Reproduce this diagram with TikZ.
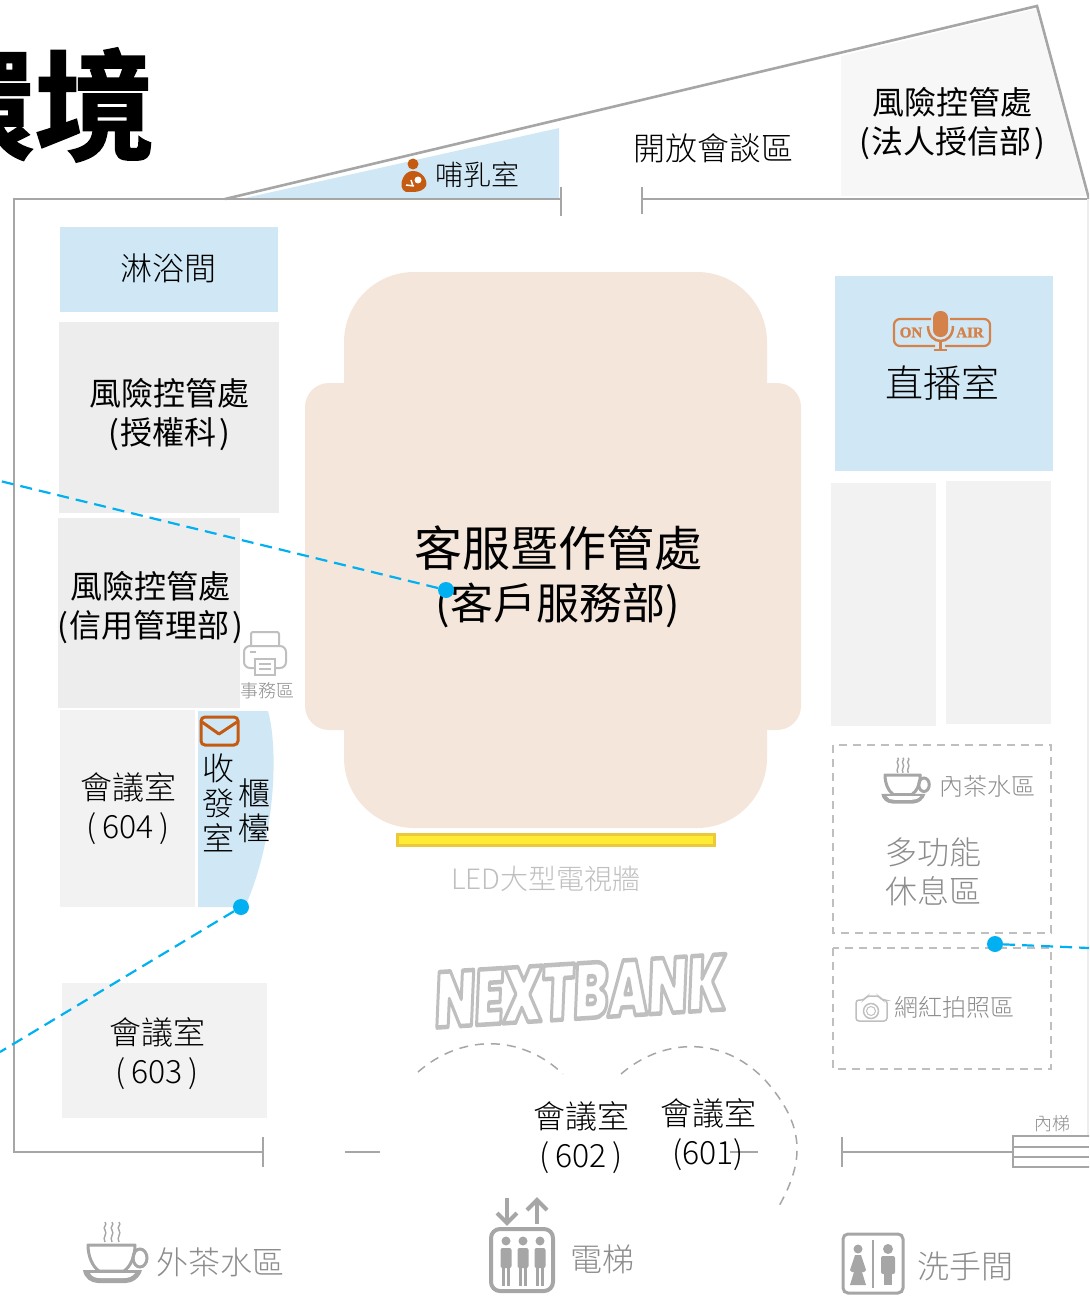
\documentclass[tikz,border=0pt]{standalone}
\usepackage{fontspec}
\setmainfont{Noto Sans CJK TC}
\newfontfamily\cjkl{Noto Sans CJK TC Light}
\newfontfamily\cjkb[FakeBold=1.5]{Noto Sans CJK TC Bold}
\newfontfamily\airf[FakeBold=1.5]{Liberation Serif}
\newfontfamily\logof[FakeSlant=.16]{Poppins Black}
\definecolor{wallc}{HTML}{A6A6A6}
\definecolor{paleblue}{HTML}{D0E8F6}
\definecolor{paleg}{HTML}{EDEDED}
\definecolor{palegg}{HTML}{F2F2F2}
\definecolor{beigec}{HTML}{F4E6DA}
\definecolor{leaderc}{HTML}{00B0F0}
\definecolor{orangec}{HTML}{C55A11}
\definecolor{airc}{HTML}{D5824A}
\definecolor{dashc}{HTML}{BFBFBF}
\definecolor{txtg}{HTML}{8C8C8C}
\definecolor{barline}{HTML}{ECC93A}
\definecolor{barfill}{HTML}{FFEB33}
\tikzset{
  wall/.style={draw=wallc,line width=2.6pt},
  lbl/.style={inner sep=0pt,align=center,text=black},
  fs/.style={font=\fontsize{#1}{\the\dimexpr #1pt*122/100\relax}\selectfont\cjkl},
  fsr/.style={font=\fontsize{#1}{\the\dimexpr #1pt*122/100\relax}\selectfont\rmfamily},
  leader/.style={draw=leaderc,line width=2.2pt,dash pattern=on 12pt off 7pt},
  leaderdot/.style={circle,fill=leaderc,inner sep=0pt,minimum size=16pt},
  dashbox/.style={draw=dashc,line width=2pt,dash pattern=on 8pt off 6pt},
  swing/.style={draw=wallc,line width=1.5pt,dash pattern=on 9pt off 7pt},
  icong/.style={draw=dashc,line width=2pt},
  iconw/.style={draw=wallc,line width=3pt},
  cupicon/.pic={
    \draw[wallc,line width=3pt,line join=round] (0,0) -- (47,0) .. controls (47,12) and (42,22) .. (36,26) -- (11,26) .. controls (5,22) and (0,12) .. (0,0) -- cycle;
    \draw[wallc,line width=3pt] (52,13) ellipse [x radius=7,y radius=9];
    \fill[wallc] (-5,25) -- (54,25) .. controls (52,33) and (44,38) .. (38,38) -- (10,38) .. controls (3,38) and (-4,33) .. (-5,25) -- cycle;
    \fill[white] (2,28) -- (47,28) .. controls (44,32) and (40,33) .. (36,33) -- (12,33) .. controls (8,33) and (4,32) .. (2,28) -- cycle;
    \foreach \sx in {17,24,31}{
      \draw[wallc,line width=1.4pt] (\sx,-3) .. controls (\sx-3,-8) and (\sx+3,-11) .. (\sx,-15) .. controls (\sx-3,-18) and (\sx+3,-20) .. (\sx,-23);}
  },
  person/.pic={
    \fill[wallc] (0,-15) circle (4.5);
    \fill[wallc,rounded corners=2pt] (-5.5,-8) rectangle (5.5,12);
    \fill[wallc] (-4,10) rectangle (-.8,30);
    \fill[wallc] (.8,10) rectangle (4,30);
  }
}
\begin{document}
\begin{tikzpicture}[x=1pt,y=-1pt]
\useasboundingbox (0,0) rectangle (1089,1297);
\clip (0,0) rectangle (1089,1297);
% fills
\fill[color=white!97!black] (841,56) -- (1036,9) -- (1086,196) -- (841,196) -- cycle;
\fill[paleblue] (245,198) -- (559,128) -- (559,198) -- cycle;
\fill[beigec,rounded corners=70pt] (344,272) rectangle (767,828);
\fill[beigec,rounded corners=24pt] (305,383) rectangle (801,730);
% rooms
\fill[paleblue] (60,227) rectangle (278,312);
\fill[paleg] (59,322) rectangle (279,513);
\fill[paleg] (58,518) rectangle (240,708);
\fill[palegg] (60,710) rectangle (195,907);
\fill[paleblue] (198,711) -- (268,711) .. controls (279,750) and (275,840) .. (245,907) -- (198,907) -- cycle;
\fill[palegg] (62,983) rectangle (267,1118);
\fill[paleblue] (835,276) rectangle (1053,471);
\fill[palegg] (831,483) rectangle (936,726);
\fill[palegg] (946,481) rectangle (1051,724);
\draw[dashbox] (833,745) rectangle (1051,933);
\draw[dashbox] (833,948) rectangle (1051,1069);
% walls
\draw[wall] (225,199) -- (14,199) -- (14,1152) -- (263,1152);
\draw[wall] (225,199) -- (561,199);
\draw[wall] (561,187) -- (561,216);
\draw[wall] (642,187) -- (642,214);
\draw[wall] (642,199) -- (1089,199);
\draw[wall] (225,199) -- (1037,6) -- (1089,199);
\draw[draw=paleg,line width=2pt] (1088,199) -- (1088,1136);
\draw[wall] (263,1137) -- (263,1167);
\draw[wall] (345,1152) -- (380,1152);
\draw[wall] (730,1152) -- (758,1152);
\draw[wall] (842,1137) -- (842,1167);
\draw[wall] (842,1152) -- (1013,1152);
\draw[wall] (1013,1136) rectangle (1095,1167);
\draw[wall] (1013,1147) -- (1089,1147);
\draw[wall] (1013,1157) -- (1089,1157);
% door swings
\draw[swing] (418,1072) .. controls (460,1035) and (520,1033) .. (563,1074);
\draw[swing] (621,1074) .. controls (660,1040) and (720,1033) .. (765,1080) .. controls (805,1125) and (805,1160) .. (779,1206);
% yellow bar
\draw[draw=barline,fill=barfill,line width=3pt] (397.5,834.5) rectangle (714,845.5);
% title
\node[inner sep=0pt,anchor=east,font=\fontsize{120}{120}\selectfont\cjkb] (title) at (155,105) {環境};
% labels
\node[lbl,fs=28] (t1) at (477,175) {哺乳室};
\node[lbl,fs=32] (t2) at (713,148) {開放會談區};
\node[lbl,fsr=32] (t3) at (952,124) {風險控管處\\(\kern2pt法人授信部\kern2pt)};
\node[lbl,fs=32] (t4) at (168,268) {淋浴間};
\node[lbl,fsr=32] (t5) at (169,415) {風險控管處\\(\kern2pt授權科\kern2pt)};
\node[lbl,fsr=32] (t6) at (150,608) {風險控管處\\(\kern2pt信用管理部\kern2pt)};
\node[lbl,fsr=48] (t7) at (558,577) {客服暨作管處\\[-5pt]{\fontsize{43}{50}\selectfont(客戶服務部)}};
\node[lbl,fs=38] (t8) at (942,383) {直播室};
\node[lbl,fs=18,text=txtg] (t9) at (267,691) {事務區};
\node[lbl,fs=32] (t10) at (128,809) {會議室\\(\,604\,)};
\node[lbl,fs=32] (t11) at (218,803) {收\\[-4pt]發\\[-4pt]室};
\node[lbl,fs=32] (t12) at (254,811) {櫃\\[-4pt]檯};
\node[lbl,fs=24,text=txtg] (t13) at (987,786) {內茶水區};
\node[lbl,fs=32,text=txtg] (t14) at (933,872) {多功能\\休息區};
\node[lbl,fs=24,text=txtg] (t15) at (954,1007) {網紅拍照區};
\node[lbl,fs=28,text=dashc] (t16) at (546,879) {LED大型電視牆};
\node[lbl,fs=32] (t17) at (157,1054) {會議室\\(\,603\,)};
\node[lbl,fs=32] (t18) at (581,1138) {會議室\\(\,602\,)};
\node[lbl,fs=32] (t19) at (708,1135) {會議室\\(601)};
\node[lbl,fs=32,text=txtg] (t20) at (220,1262) {外茶水區};
\node[lbl,fs=32,text=txtg] (t21) at (602,1259) {電梯};
\node[lbl,fs=32,text=txtg] (t22) at (965,1266) {洗手間};
\node[lbl,fs=18,text=txtg] (t23) at (1052,1124) {內梯};
% leaders' free ends
\coordinate (l1) at (0,481);
\coordinate (l2) at (0,1052);
\coordinate (l3) at (1089,948);
\node[leaderdot] (d1) at (446,590) {};
\node[leaderdot] (d2) at (241,907) {};
\node[leaderdot] (d3) at (995,944) {};
\draw[leader] (d1) -- (l1);
\draw[leader] (d2) -- (l2);
\draw[leader] (d3) -- (l3);
% NEXTBANK
\node[inner sep=0pt,rotate=3.6,xscale=.655,transform shape,font=\fontsize{78}{78}\selectfont\logof] (logo) at (578,991) {\special{pdf:literal direct q 2 Tr 1 j 4.5 w 0.75 G 1 g}NEXTBANK\special{pdf:literal direct 0 Tr Q}};
% printer icon
\draw[icong,rounded corners=2pt,fill=white] (251,632) rectangle (279,648);
\draw[icong,rounded corners=6pt,fill=white] (244,646) rectangle (286,668);
\draw[icong,fill=white] (255,659) rectangle (275,675);
\draw[dashc,line width=1.3pt] (250,652) -- (256,652) (259,664) -- (271,664) (259,669) -- (271,669);
% mail icon
\draw[orangec,line width=3pt,rounded corners=4pt] (201,717) rectangle (238,745);
\draw[orangec,line width=3pt,line join=round] (202,722) -- (219,734) -- (237,722);
% mother icon
\fill[orangec] (413,164) circle (5.5);
\fill[orangec] (413,171) .. controls (422,171) and (428,180) .. (426,186) .. controls (424,190) and (419,192) .. (413,192) -- (406,192) .. controls (401,190) and (400,184) .. (403,178) .. controls (405,174) and (408,171) .. (413,171) -- cycle;
\fill[white] (418,180) circle (3.5);
\draw[white,line width=1.5pt] (406,185) -- (414,186) (411,180) -- (413,186);
% on-air icon
\draw[airc,line width=2.2pt,rounded corners=6pt] (931,319) -- (894,319) -- (894,346) -- (935,346);
\draw[airc,line width=2.2pt,rounded corners=6pt] (950,319) -- (990,319) -- (990,346) -- (945,346);
\fill[airc,rounded corners=7pt] (933,311) rectangle (948,337);
\draw[airc,line width=2.5pt] (928,326) .. controls (928,346) and (953,346) .. (953,326);
\draw[airc,line width=2.5pt] (940.5,342) -- (940.5,350);
\draw[airc,line width=2.5pt] (934,350) -- (947,350);
\node[inner sep=0pt,text=airc,font=\fontsize{15}{15}\selectfont\airf\bfseries] (on) at (911,332.5) {ON};
\node[inner sep=0pt,text=airc,font=\fontsize{15}{15}\selectfont\airf\bfseries] (air) at (970,332.5) {AIR};
% cups
\pic[scale=1] at (88,1245) {cupicon};
\pic[scale=.75] at (885,775) {cupicon};
% camera
\draw[dashc,line width=1.5pt,rounded corners=3pt] (856,1000) -- (864,1000) -- (867,996) -- (879,996) -- (882,1000) -- (887,1000) -- (887,1021) -- (856,1021) -- cycle;
\draw[dashc,line width=1.5pt] (871,1011) circle (7.5);
\draw[dashc,line width=1pt] (871,1011) circle (4.5);
% elevator
\draw[iconw,line width=4pt,rounded corners=9pt] (491,1229) rectangle (553,1291);
\draw[wallc,line width=4pt] (507,1198) -- (507,1223);
\draw[wallc,line width=4pt,line join=miter] (497,1213) -- (507,1223) -- (517,1213);
\draw[wallc,line width=4pt] (537,1224) -- (537,1200);
\draw[wallc,line width=4pt,line join=miter] (527,1210) -- (537,1200) -- (547,1210);
\pic at (506,1256) {person};
\pic at (523,1256) {person};
\pic at (540,1256) {person};
% restroom
\draw[wallc,line width=3pt,rounded corners=5pt] (843,1234) rectangle (903,1293);
\draw[wallc,line width=2.5pt] (873,1240) -- (873,1288);
\fill[wallc] (858,1249) circle (4.5);
\fill[wallc] (855,1255) -- (861,1255) -- (866,1270) -- (864,1272) -- (862,1272) -- (866,1285) -- (850,1285) -- (854,1272) -- (852,1272) -- (850,1270) -- cycle;
\fill[wallc] (888,1249) circle (5);
\fill[wallc,rounded corners=2pt] (881,1256) rectangle (895,1274);
\fill[wallc] (884,1270) rectangle (892,1285);
\end{tikzpicture}
\end{document}
